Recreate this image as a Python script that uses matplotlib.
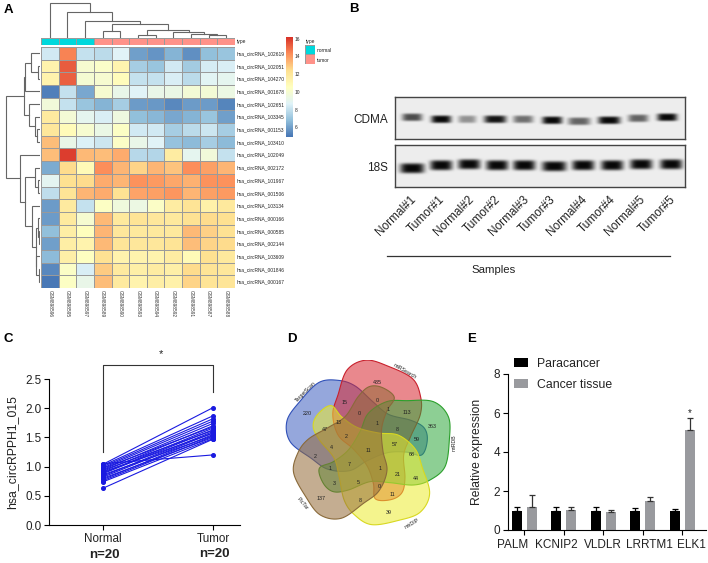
import numpy as np
import matplotlib
matplotlib.use("Agg")
import matplotlib.pyplot as plt
from matplotlib.colors import LinearSegmentedColormap
from matplotlib.patches import Polygon

plt.rcParams['font.family'] = ['Liberation Sans', 'DejaVu Sans']

W, H = 708, 563

# --- panel A data ---
circ_ids = ["102619", "102051", "104270", "001678", "102651", "103345", "001153", "103410", "102049", "002172",
            "101967", "001506", "103134", "000166", "000585", "002144", "103609", "001846", "000167"]
gsm_ids = ["GSM898596", "GSM898595", "GSM898597", "GSM898589", "GSM898590", "GSM898593",
           "GSM898594", "GSM898592", "GSM898591", "GSM898587", "GSM898588"]
heat_values = [
    [8.3, 14.5, 8.0, 7.8, 8.7, 6.0, 5.7, 6.5, 5.6, 6.8, 7.0],
    [11.3, 15.3, 10.0, 10.2, 11.2, 7.3, 7.0, 8.3, 7.2, 8.4, 8.5],
    [11.3, 15.2, 9.9, 10.0, 10.7, 8.0, 8.0, 8.5, 7.8, 8.8, 9.0],
    [5.2, 8.0, 6.2, 10.0, 9.2, 8.7, 9.2, 9.3, 9.8, 9.8, 9.4],
    [9.7, 8.0, 7.0, 6.5, 7.3, 5.9, 5.8, 5.4, 5.9, 5.9, 5.3],
    [11.8, 9.8, 9.0, 8.5, 9.5, 6.8, 6.6, 6.2, 6.5, 7.0, 6.0],
    [12.0, 10.8, 10.0, 9.3, 10.4, 8.3, 8.3, 7.3, 7.8, 8.2, 7.3],
    [13.2, 9.2, 8.6, 8.2, 10.3, 9.2, 8.7, 6.9, 6.7, 7.3, 6.7],
    [13.2, 15.9, 13.3, 13.2, 13.6, 7.7, 7.6, 11.7, 9.0, 9.7, 8.0],
    [6.3, 12.5, 10.9, 14.3, 13.4, 12.7, 13.4, 13.1, 14.3, 13.9, 13.4],
    [8.9, 12.4, 12.5, 13.6, 13.4, 14.2, 14.0, 13.7, 13.5, 14.2, 14.2],
    [7.9, 12.2, 13.4, 13.6, 12.3, 13.8, 13.9, 14.1, 13.4, 13.9, 14.0],
    [5.9, 11.8, 8.0, 10.4, 9.6, 9.4, 10.3, 11.7, 12.2, 11.4, 11.9],
    [5.9, 11.8, 10.0, 13.3, 11.9, 12.2, 12.0, 11.9, 12.3, 12.5, 12.4],
    [6.8, 11.6, 10.6, 13.4, 12.0, 11.9, 11.9, 11.9, 13.3, 12.8, 12.3],
    [6.0, 11.6, 11.3, 13.3, 12.1, 12.0, 12.0, 12.2, 13.2, 12.7, 12.5],
    [6.7, 11.5, 10.5, 12.3, 11.3, 11.3, 11.3, 11.7, 10.9, 12.4, 11.9],
    [5.4, 10.3, 8.5, 12.9, 11.8, 11.5, 11.7, 11.5, 12.5, 12.2, 12.0],
    [5.0, 10.4, 9.2, 13.2, 11.8, 11.3, 11.6, 11.4, 12.7, 12.2, 12.1],
]
sample_type = [0, 0, 0, 1, 1, 1, 1, 1, 1, 1, 1]
type_names = ["normal", "tumor"]
type_colors = ["#00d8dc", "#ff9289"]

# dendrogram merges: (left, right, height), nodes numbered from n_leaves upward
col_merges = [(9, 10, 2.5), (8, 11, 4), (7, 12, 5.5), (5, 6, 2.5), (14, 13, 7.5), (3, 4, 6.5),
              (16, 15, 13.5), (2, 17, 16.5), (1, 18, 25.5), (0, 19, 34.5)]
row_merges = [(1, 2, 2), (0, 19, 9), (20, 3, 15.5), (6, 7, 3.5), (5, 22, 5), (4, 23, 11.5), (21, 24, 16.5),
              (10, 11, 2), (9, 26, 5), (14, 15, 1.2), (13, 28, 2), (17, 18, 0.8), (16, 30, 4.5), (29, 31, 4),
              (12, 32, 8.5), (27, 33, 15), (8, 34, 20), (25, 35, 34)]

# --- panel B data ---
sample_names = ["Normal#1", "Tumor#1", "Normal#2", "Tumor#2", "Normal#3", "Tumor#3", "Normal#4", "Tumor#4",
                "Normal#5", "Tumor#5"]
sample_label_x = [414, 443, 472, 499, 527, 554, 585, 614, 643, 674]
cdma_x = [412, 441, 467, 495, 523, 552, 579, 609, 638, 667]
cdma_y = [117, 119, 119, 119, 119, 120, 121, 120, 118, 117]
cdma_w = [10, 10, 9, 11, 10, 10, 11, 11, 10, 10]
cdma_level = [0.7, 1.0, 0.4, 0.95, 0.55, 1.0, 0.6, 1.0, 0.6, 1.0]
s18_x = [412, 441, 469, 497, 524, 554, 583, 612, 641, 671]
s18_y = [168, 165, 164, 165, 165, 166, 165, 165, 164, 164]
s18_w = [12, 11, 11, 11, 11, 12, 11, 11, 11, 11]
s18_level = [1.0, 1.0, 1.0, 1.0, 1.0, 1.0, 1.0, 1.0, 1.0, 1.0]

# --- panel C data ---
normal_vals = [0.63, 0.74, 0.76, 0.78, 0.80, 0.82, 0.84, 0.86, 0.88, 0.89,
               0.91, 0.92, 0.94, 0.95, 0.97, 0.98, 1.00, 1.02, 1.04, 1.05]
tumor_vals = [1.47, 1.48, 1.52, 1.55, 1.50, 1.58, 1.60, 1.53, 1.63, 1.66,
              1.57, 1.70, 1.62, 1.74, 1.68, 1.78, 1.82, 1.87, 2.01, 1.20]

# --- panel D data ---
set_names = ["TargetScan", "miRSearch", "miRDB", "mirDIP", "PicTar"]
set_label_x = [46, 345, 493, 365, 36]
set_label_y = [95, 33, 248, 492, 432]
set_label_rot = [45, -30, 90, 30, -50]
venn_counts = ["435", "15", "0", "220", "0", "1", "113", "363", "13", "47", "1", "8", "2", "4", "59", "57", "11",
               "68", "2", "7", "1", "1", "21", "44", "3", "5", "0", "11", "137", "8", "39"]
venn_x = [263, 165, 262, 53, 208, 293, 352, 428, 146, 104, 260, 323, 170, 124, 379, 313, 234,
          365, 76, 178, 120, 270, 323, 379, 133, 205, 268, 306, 93, 211, 297]
venn_y = [66, 127, 120, 161, 161, 149, 157, 198, 188, 209, 191, 209, 228, 263, 239, 255, 270,
          284, 288, 312, 326, 326, 344, 354, 370, 366, 381, 403, 416, 422, 458]
# outline of the right hand (green) set, the others are this one turned by 72 degrees
petal_x = [88, 130, 175, 210, 235, 290, 350, 430, 475, 478, 465, 420, 370, 300, 240, 175, 130, 100]
petal_y = [325, 305, 270, 215, 160, 125, 122, 125, 170, 240, 320, 360, 375, 368, 365, 390, 395, 370]
petal_turns = [2, 1, 0, 4, 3]
petal_edge = ["#3050b8", "#c8202c", "#2ca02c", "#d8d820", "#8a6a3a"]
petal_fill = ["#3f60c0", "#d8262f", "#30a83c", "#ecec30", "#946a38"]

# --- panel E data ---
genes = ["PALM", "KCNIP2", "VLDLR", "LRRTM1", "ELK1"]
gene_label_x = [-0.286, -0.2, 0.0, 0.175, 0.235]
para_vals = [1.0, 1.0, 1.0, 1.0, 1.0]
para_err = [0.17, 0.2, 0.17, 0.15, 0.1]
cancer_vals = [1.2, 1.05, 0.9, 1.5, 5.15]
cancer_err = [0.6, 0.15, 0.12, 0.17, 0.6]


def ax_px(x0, y0, x1, y1):
    return fig.add_axes([x0 / W, 1 - y1 / H, (x1 - x0) / W, (y1 - y0) / H])


def draw_dendro(ax, merges, n_leaves, horizontal):
    pos = {i: i + 0.5 for i in range(n_leaves)}
    height = {i: 0 for i in range(n_leaves)}
    for k, (a, b, h) in enumerate(merges):
        xs = [pos[a], pos[a], pos[b], pos[b]]
        ys = [height[a], h, h, height[b]]
        if horizontal:
            ax.plot(xs, ys, color="#666666", lw=0.8, solid_joinstyle="miter")
        else:
            ax.plot(ys, xs, color="#666666", lw=0.8, solid_joinstyle="miter")
        pos[n_leaves + k] = (pos[a] + pos[b]) / 2
        height[n_leaves + k] = h
    ax.axis("off")


def smooth_closed(x, y, n=14):
    p = np.column_stack([x, y]).astype(float)
    out = []
    for i in range(len(p)):
        p0, p1, p2, p3 = p[i - 1], p[i], p[(i + 1) % len(p)], p[(i + 2) % len(p)]
        for t in np.linspace(0, 1, n, endpoint=False):
            out.append(0.5 * (2 * p1 + (p2 - p0) * t + (2 * p0 - 5 * p1 + 4 * p2 - p3) * t ** 2
                              + (3 * p1 - p0 - 3 * p2 + p3) * t ** 3))
    return np.array(out)


def draw_blot(x0, y0, x1, y1, xs, ys, ws, levels, tall):
    ax = ax_px(x0, y0, x1, y1)
    gx, gy = np.meshgrid(np.arange(x0, x1, 0.5), np.arange(y0, y1, 0.5))
    img = np.zeros_like(gx)
    for x, y, w, lev in zip(xs, ys, ws, levels):
        img = np.maximum(img, lev * np.exp(-((gx - x) / w) ** 4 - ((gy - y) / tall) ** 4))
    ax.imshow(0.93 - 0.9 * img, cmap="gray", vmin=0, vmax=1, extent=[x0, x1, y1, y0], aspect="auto")
    ax.set_xticks([])
    ax.set_yticks([])
    for s in ax.spines.values():
        s.set_color("#444444")
        s.set_linewidth(1.0)


fig = plt.figure(figsize=(W / 100, H / 100), dpi=100)

# A: heatmap
pheat = LinearSegmentedColormap.from_list(
    "pheat", ["#4575B4", "#91BFDB", "#E0F3F8", "#FFFFBF", "#FEE090", "#FC8D59", "#D73027"])
heat = np.array(heat_values)
n_rows, n_cols = heat.shape
ax = ax_px(41, 47, 235, 288)
mesh = ax.pcolormesh(heat, cmap=pheat, vmin=4.9, vmax=16.2, edgecolors="#9a9a9a", linewidth=0.6)
ax.set_ylim(n_rows, 0)
ax.set_xlim(0, n_cols)
ax.yaxis.tick_right()
ax.set_yticks(np.arange(n_rows) + 0.5)
ax.set_yticklabels(["hsa_circRNA_" + c for c in circ_ids], fontsize=3.5, color="#222222")
ax.set_xticks(np.arange(n_cols) + 0.5)
ax.set_xticklabels(gsm_ids, fontsize=3.4, rotation=270, color="#333333")
ax.tick_params(length=0, pad=1.5)
for s in ax.spines.values():
    s.set_visible(False)

ax = ax_px(41, 38, 235, 45)
ax.pcolormesh([sample_type], cmap=matplotlib.colors.ListedColormap(type_colors), vmin=0, vmax=1,
              edgecolors="#9a9a9a", linewidth=0.5)
ax.set_xticks([])
ax.yaxis.tick_right()
ax.set_yticks([0.5])
ax.set_yticklabels(["type"], fontsize=3.5, color="#222222")
ax.tick_params(length=0, pad=1.5)
for s in ax.spines.values():
    s.set_visible(False)

ax = ax_px(41, 2, 235, 37.5)
draw_dendro(ax, col_merges, n_cols, True)
ax.set_xlim(0, n_cols)
ax.set_ylim(0, 35.5)

ax = ax_px(5, 47, 40, 288)
draw_dendro(ax, row_merges, n_rows, False)
ax.set_ylim(n_rows, 0)
ax.set_xlim(35, 0)

cax = ax_px(286, 37, 293, 137)
fig.colorbar(mesh, cax=cax, ticks=[6, 8, 10, 12, 14, 16])
cax.tick_params(length=0, labelsize=3.5, pad=1.5, labelcolor="#222222")
cax.spines["outline"].set_visible(False)

ax = ax_px(305, 45, 315, 64)
ax.pcolormesh([[1], [0]], cmap=matplotlib.colors.ListedColormap(type_colors), vmin=0, vmax=1,
              edgecolors="#9a9a9a", linewidth=0.5)
ax.axis("off")
fig.text(306 / W, 1 - 41 / H, "type", fontsize=3.5, va="center", color="#222222")
for name, y in zip(type_names, [50, 60]):
    fig.text(317 / W, 1 - y / H, name, fontsize=3.5, va="center", color="#222222")

# B: blots
draw_blot(395, 97, 685, 139, cdma_x, cdma_y, cdma_w, cdma_level, 3.8)
draw_blot(395, 145, 685, 187, s18_x, s18_y, s18_w, s18_level, 5.0)
fig.text(388 / W, 1 - 120 / H, "CDMA", fontsize=8.5, ha="right", va="center", color="#222222")
fig.text(388 / W, 1 - 168 / H, "18S", fontsize=8.5, ha="right", va="center", color="#222222")
for name, x in zip(sample_names, sample_label_x):
    fig.text(x / W, 1 - 198 / H, name, fontsize=8.5, rotation=45, ha="right", va="center",
             rotation_mode="anchor", color="#222222")
fig.add_artist(plt.Line2D([387 / W, 670 / W], [1 - 256 / H, 1 - 256 / H], color="#333333", lw=0.9))
fig.text(494 / W, 1 - 270 / H, "Samples", fontsize=8.2, ha="center", va="center", color="#222222")

# C: paired lines
ax = ax_px(49, 379, 240, 525)
for a, b in zip(normal_vals, tumor_vals):
    ax.plot([0, 1], [a, b], "-o", color="#1a1ae0", lw=0.8, ms=2.6, clip_on=False)
ax.set_xlim(-0.491, 1.245)
ax.set_ylim(0, 2.5)
ax.set_yticks([0, 0.5, 1.0, 1.5, 2.0, 2.5])
ax.set_xticks([0, 1])
ax.set_xticklabels(["Normal", "Tumor"])
ax.tick_params(labelsize=8.4, length=3.5, width=0.8, pad=2, labelcolor="#222222")
ax.set_ylabel("hsa_circRPPH1_015", fontsize=8.8, labelpad=5, color="#222222")
ax.spines["top"].set_visible(False)
ax.spines["right"].set_visible(False)
ax.plot([0, 0, 1, 1], [1.25, 2.74, 2.74, 2.28], color="#333333", lw=0.8, clip_on=False)
ax.text(0.53, 2.93, "*", fontsize=8, ha="center", va="center", color="#222222")
ax.text(0.01, -0.51, "n=20", fontsize=9.5, fontweight="bold", ha="center", va="center", color="#222222")
ax.text(1.01, -0.5, "n=20", fontsize=9.5, fontweight="bold", ha="center", va="center", color="#222222")

# D: venn
ax = ax_px(285, 360, 455, 530)
ax.set_xlim(-15, 495)
ax.set_ylim(510, 0)
ax.axis("off")
outline = smooth_closed(petal_x, petal_y) - np.array([235, 255])
for turn, edge, fill in zip(petal_turns, petal_edge, petal_fill):
    a = np.deg2rad(72 * turn)
    px = outline[:, 0] * np.cos(a) + outline[:, 1] * np.sin(a) + 235
    py = -outline[:, 0] * np.sin(a) + outline[:, 1] * np.cos(a) + 255
    ax.add_patch(Polygon(np.column_stack([px, py]), closed=True, facecolor=fill, alpha=0.55, edgecolor="none"))
    ax.add_patch(Polygon(np.column_stack([px, py]), closed=True, facecolor="none", edgecolor=edge, lw=0.8))
for t, x, y in zip(venn_counts, venn_x, venn_y):
    ax.text(x, y, t, fontsize=3.9, ha="center", va="center", color="#222222")
for t, x, y, r in zip(set_names, set_label_x, set_label_y, set_label_rot):
    ax.text(x, y, t, fontsize=3.8, rotation=r, ha="center", va="center", color="#222222", clip_on=False)

# E: bars
ax = ax_px(508, 374, 706, 530)
xs = np.arange(len(genes))
ax.bar(xs - 0.187, para_vals, 0.25, color="black", label="Paracancer",
       yerr=[np.zeros(len(genes)), para_err], ecolor="black", error_kw=dict(lw=0.9, capsize=2.2, capthick=0.9))
ax.bar(xs + 0.187, cancer_vals, 0.25, color="#999a9e", label="Cancer tissue",
       yerr=[np.zeros(len(genes)), cancer_err], ecolor="#333333", error_kw=dict(lw=0.9, capsize=2.2, capthick=0.9))
ax.set_xlim(-0.413, 4.6)
ax.set_ylim(0, 8)
ax.set_yticks([0, 2, 4, 6, 8])
ax.set_xticks(xs)
ax.set_xticklabels([])
for g, x, dx in zip(genes, xs, gene_label_x):
    ax.text(x + dx, -0.77, g, fontsize=8.5, ha="center", va="center", color="#222222")
ax.tick_params(axis="y", labelsize=8.5, length=3.5, width=0.8, pad=2, labelcolor="#222222")
ax.tick_params(axis="x", length=3.5, width=0.8)
ax.set_ylabel("Relative expression", fontsize=8.7, labelpad=8, color="#222222")
ax.spines["top"].set_visible(False)
ax.spines["right"].set_visible(False)
ax.text(4.187, 6.0, "*", fontsize=7, ha="center", va="center", color="#222222")
ax.legend(loc="upper left", bbox_to_anchor=(514 / W, 1 - 358 / H), bbox_transform=fig.transFigure, frameon=False,
          fontsize=8.8, handlelength=1.14, handleheight=0.7, labelspacing=0.7, handletextpad=0.74,
          borderpad=0, borderaxespad=0, labelcolor="#222222")

# panel letters
for t, x, y in zip("ABCDE", [4, 349, 4, 287, 467], [10, 9, 339, 339, 339]):
    fig.text(x / W, 1 - y / H, t, fontsize=9.5, fontweight="bold", va="center")

fig.savefig("out.png", dpi=100)
